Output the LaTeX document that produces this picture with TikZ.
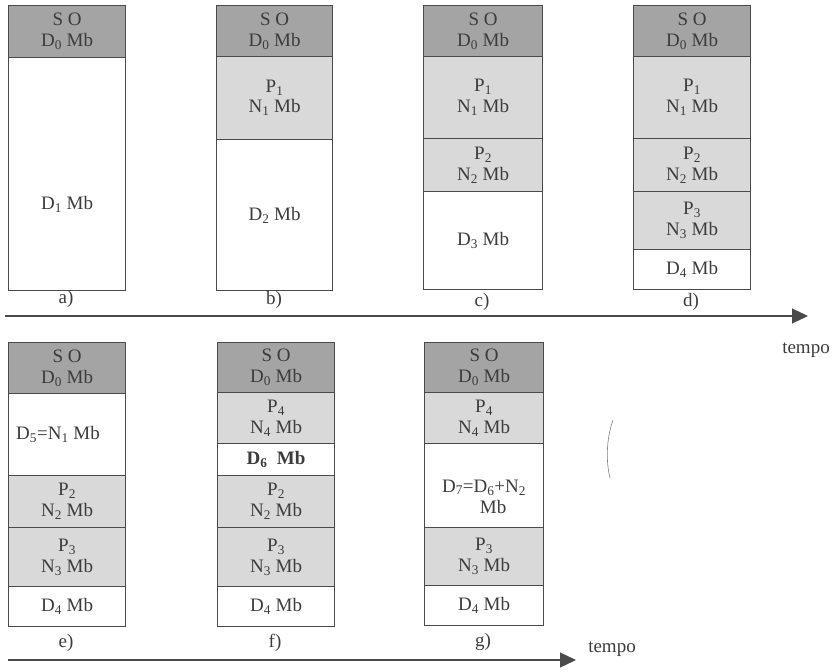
\documentclass[tikz,border=0pt]{standalone}
\usepackage{fontspec}
\setmainfont{Liberation Serif}
\usetikzlibrary{arrows.meta}
\definecolor{sogray}{HTML}{A4A4A4}
\definecolor{procgray}{HTML}{D9D9D9}
\definecolor{inkgray}{HTML}{3C3C3C}
\definecolor{linegray}{HTML}{4A4A4A}
\newcommand\sub[1]{\textsubscript{#1}}
\newcommand\memblk[7]{%
  \node[#2, anchor=north west, minimum width=#5pt, minimum height=#6pt] (#1) at (#3,#4) {#7};}
\tikzset{
  base/.style={draw=linegray, line width=1.1pt, inner sep=0pt, align=center,
    text=inkgray, font=\fontsize{19}{21}\selectfont},
  sysblk/.style={base, fill=sogray},
  procblk/.style={base, fill=procgray},
  freeblk/.style={base, fill=white},
  lab/.style={text=inkgray, font=\fontsize{19}{21}\selectfont, inner sep=0pt},
  timeline/.style={draw=linegray, line width=1.1pt, -{Triangle[length=16pt,width=15pt]}},
}
\begin{document}
\begin{tikzpicture}[x=1pt,y=-1pt]
\useasboundingbox[fill=white] (0,0) rectangle (834,671);
% a)
\memblk{a0}{sysblk}{8}{5}{117}{52}{S O\\D\sub{0} Mb}
\memblk{a1}{freeblk}{8}{57}{117}{233}{}
\node[lab] (a1t) at ([yshift=-30pt]a1.center) {D\sub{1} Mb};
\node[lab] (la) at (66,299) {a)};
% b)
\memblk{b0}{sysblk}{216}{5}{116}{51}{S O\\D\sub{0} Mb}
\memblk{b1}{procblk, font=\fontsize{19}{20}\selectfont}{216}{56}{116}{83}{P\sub{1}\\N\sub{1} Mb}
\memblk{b2}{freeblk}{216}{139}{116}{151}{D\sub{2} Mb}
\node[lab] (lb) at (274,300) {b)};
% c)
\memblk{c0}{sysblk}{423}{5}{119}{51}{S O\\D\sub{0} Mb}
\memblk{c1}{procblk}{423}{56}{119}{82}{P\sub{1}\\N\sub{1} Mb}
\memblk{c2}{procblk}{423}{138}{119}{53}{P\sub{2}\\N\sub{2} Mb}
\memblk{c3}{freeblk}{423}{191}{119}{98}{D\sub{3} Mb}
\node[lab] (lc) at (482,302) {c)};
% d)
\memblk{d0}{sysblk}{633}{5}{117}{51}{S O\\D\sub{0} Mb}
\memblk{d1}{procblk}{633}{56}{117}{82}{P\sub{1}\\N\sub{1} Mb}
\memblk{d2}{procblk}{633}{138}{117}{53}{P\sub{2}\\N\sub{2} Mb}
\memblk{d3}{procblk}{633}{191}{117}{58}{P\sub{3}\\N\sub{3} Mb}
\memblk{d4}{freeblk}{633}{249}{117}{40}{D\sub{4} Mb}
\node[lab] (ld) at (691,302) {d)};
% time axis 1
\coordinate (t1s) at (5,316);
\coordinate (t1e) at (808,316);
\draw[timeline] (t1s) -- (t1e);
\node[lab] (tempo1) at (806,350) {tempo};
% e)
\memblk{e0}{sysblk}{8}{342}{117}{51}{S O\\D\sub{0} Mb}
\memblk{e1}{freeblk}{8}{393}{117}{82}{}
\node[lab] (e1t) at ([xshift=-9pt]e1.center) {D\sub{5}=N\sub{1} Mb};
\memblk{e2}{procblk}{8}{475}{117}{52}{P\sub{2}\\N\sub{2} Mb}
\memblk{e3}{procblk}{8}{527}{117}{59}{P\sub{3}\\N\sub{3} Mb}
\memblk{e4}{freeblk}{8}{586}{117}{40}{D\sub{4} Mb}
\node[lab] (le) at (66,643) {e)};
% f)
\memblk{f0}{sysblk}{217}{342}{117}{50}{S O\\D\sub{0} Mb}
\memblk{f1}{procblk}{217}{392}{117}{51}{P\sub{4}\\N\sub{4} Mb}
\memblk{f2}{freeblk, font=\fontsize{19}{21}\selectfont\bfseries}{217}{443}{117}{32}{D\sub{6}\ \ Mb}
\memblk{f3}{procblk}{217}{475}{117}{52}{P\sub{2}\\N\sub{2} Mb}
\memblk{f4}{procblk}{217}{527}{117}{59}{P\sub{3}\\N\sub{3} Mb}
\memblk{f5}{freeblk}{217}{586}{117}{40}{D\sub{4} Mb}
\node[lab] (lf) at (275,643) {f)};
% g)
\memblk{g0}{sysblk}{424}{342}{119}{50}{S O\\D\sub{0} Mb}
\memblk{g1}{procblk}{424}{392}{119}{51}{P\sub{4}\\N\sub{4} Mb}
\memblk{g2}{freeblk}{424}{443}{119}{84}{}
\node[lab, align=center] (g2t) at ([yshift=-11pt]g2.center) {D\sub{7}=D\sub{6}+N\sub{2}\\\hspace*{18pt}Mb};
\memblk{g3}{procblk}{424}{527}{119}{58}{P\sub{3}\\N\sub{3} Mb}
\memblk{g4}{freeblk}{424}{585}{119}{40}{D\sub{4} Mb}
\node[lab] (lg) at (483,642) {g)};
% time axis 2
\coordinate (t2s) at (8,660);
\coordinate (t2e) at (576,660);
\draw[timeline] (t2s) -- (t2e);
\node[lab] (tempo2) at (612,649) {tempo};
% faint stray stroke
\coordinate (arcA) at (613,420);
\coordinate (arcB) at (610,478);
\draw[gray, line width=0.6pt] (arcA) .. controls (606,440) and (606,462) .. (arcB);
\end{tikzpicture}
\end{document}
